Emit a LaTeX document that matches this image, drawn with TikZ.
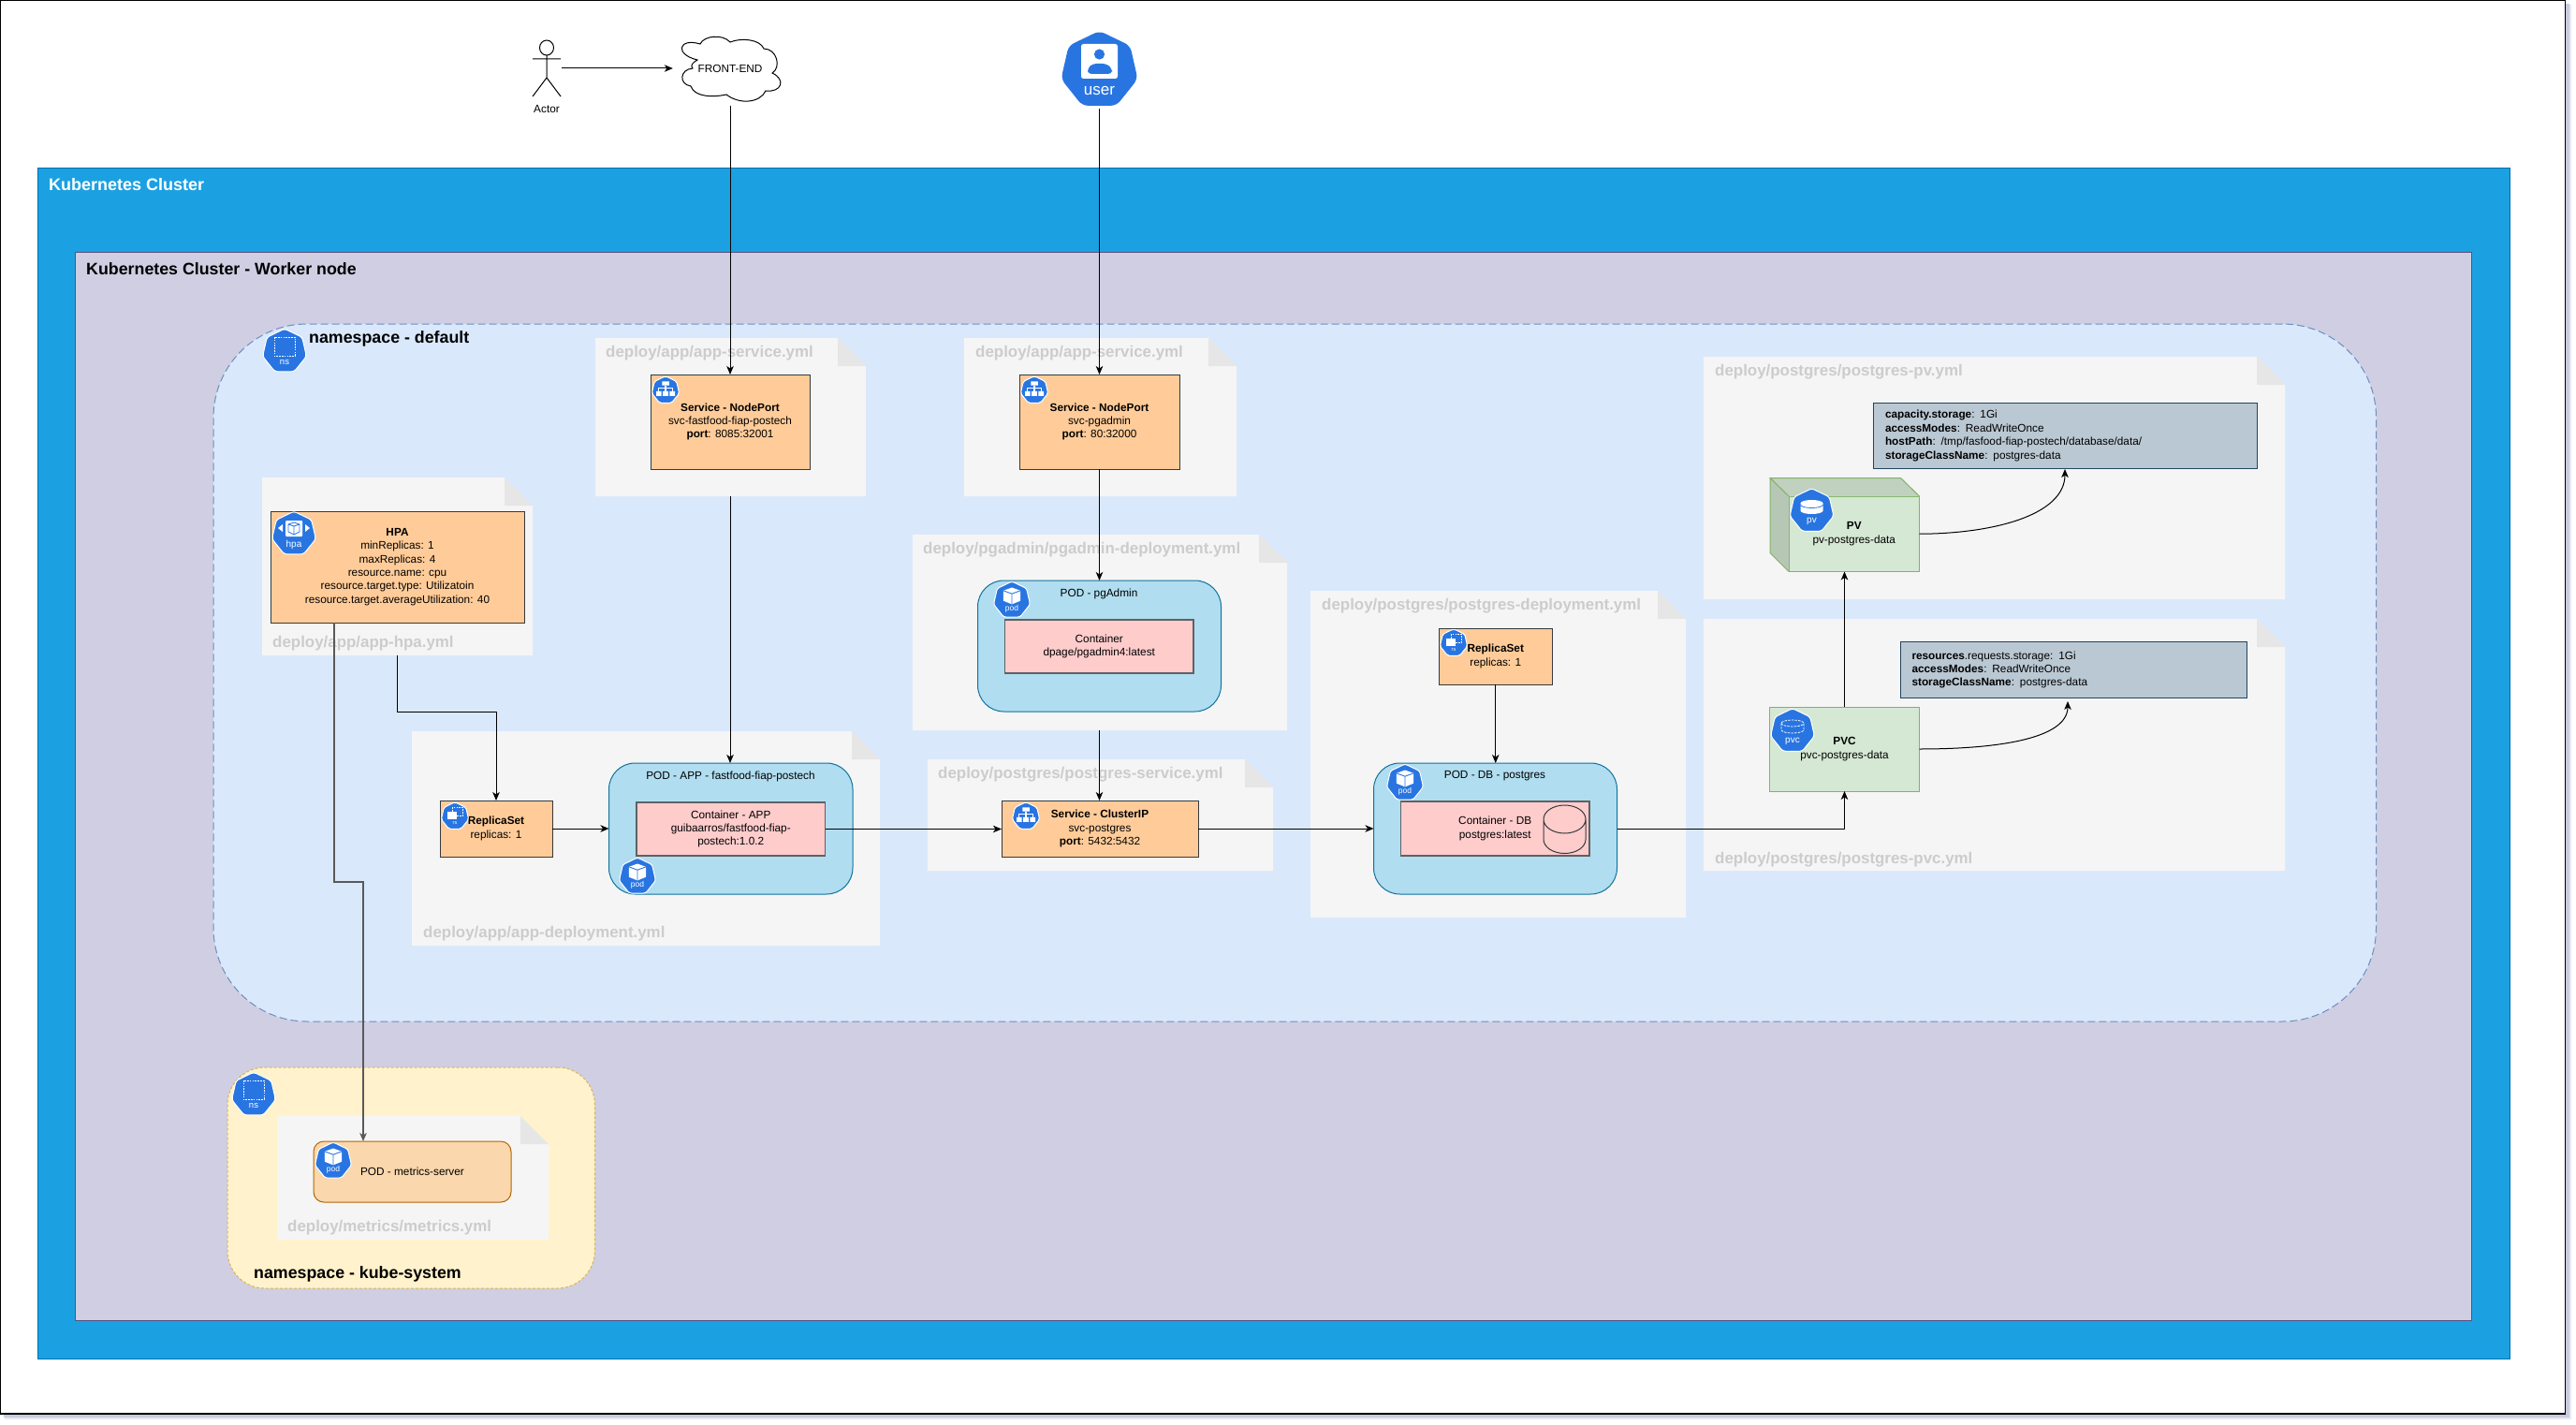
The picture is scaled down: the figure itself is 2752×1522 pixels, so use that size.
\documentclass[tikz,border=0pt]{standalone}
\usepackage{fontspec}
\setmainfont{Liberation Sans}
\usetikzlibrary{arrows.meta,calc,shapes.geometric}
\pgfdeclarelayer{cont}\pgfdeclarelayer{docs}
\pgfsetlayers{cont,docs,main}
\definecolor{kblue}{HTML}{2875E2}
\definecolor{clusterF}{HTML}{1BA1E2}\definecolor{clusterD}{HTML}{006EAF}
\definecolor{workerF}{HTML}{D0CEE2}\definecolor{workerD}{HTML}{56517E}
\definecolor{nsF}{HTML}{DAE8FC}\definecolor{nsD}{HTML}{6C8EBF}
\definecolor{ksF}{HTML}{FFF2CC}\definecolor{ksD}{HTML}{D6B656}
\definecolor{docF}{HTML}{F5F5F5}\definecolor{foldF}{HTML}{E6E6E6}
\definecolor{podF}{HTML}{B1DDF0}\definecolor{podD}{HTML}{10739E}
\definecolor{ctrF}{HTML}{FFCCCC}\definecolor{ctrD}{HTML}{36393D}
\definecolor{orF}{HTML}{FFCC99}\definecolor{mpF}{HTML}{FAD7AC}\definecolor{mpD}{HTML}{B46504}
\definecolor{grF}{HTML}{D5E8D4}\definecolor{grD}{HTML}{82B366}
\definecolor{inF}{HTML}{BAC8D3}\definecolor{inD}{HTML}{23445D}
\definecolor{shadowC}{HTML}{C9CBDD}
\newcommand{\fs}[1]{\fontsize{#1}{#1}\selectfont}
\tikzset{
  x=1pt,y=-1pt,
  box/.style args={#1,#2,#3,#4}{at={({(#1+#3)/2},{(#2+#4)/2})},minimum width={(#3-#1)*1pt},minimum height={(#4-#2)*1pt},inner sep=0pt,outer sep=0pt,rectangle},
  txt/.style={font=\fs{11.8},align=center,text=black,line width=1pt},
  orange/.style={txt,draw=ctrD,fill=orF},
  ctr/.style={txt,draw=ctrD!80,fill=ctrF,line width=1.2pt},
  pod/.style={txt,draw=podD,fill=podF,rounded corners=28pt},
  green/.style={txt,draw=grD,fill=grF},
  info/.style={txt,draw=inD,fill=inF,align=left,text width=385pt},
  doclabel/.style={font=\bfseries\fs{16.9},text=black!20,anchor=west,inner sep=0pt},
  title/.style={font=\bfseries\fs{17.8},anchor=west,inner sep=0pt},
  arr/.style={-{Stealth[length=9pt,width=7.5pt,inset=2.5pt]},line width=1pt,black},
}
% document shape: left, top, right, bottom
\newcommand{\docshape}[4]{%
  \begin{pgfonlayer}{docs}
  \fill[docF] (#1,#2) -- ({#3-30},#2) -- (#3,{#2+30}) -- (#3,#4) -- (#1,#4) -- cycle;
  \fill[foldF] ({#3-30},#2) -- (#3,{#2+30}) -- ({#3-30},{#2+30}) -- cycle;
  \end{pgfonlayer}}
% heptagon: name, x, y, radius; glyph in #5, units: radius 24
\newcommand{\kicon}[5]{%
  \node[regular polygon,regular polygon sides=7,minimum size={2*#4*1pt},inner sep=0pt,outer sep=0pt,fill=kblue,draw=white,line width=1pt,rounded corners={#4*0.12pt}] (#1) at (#2,{#3+#4*0.05}) {};
  \begin{scope}[shift={(#2,#3)},x={#4/24*1pt},y={-#4/24*1pt}]#5\end{scope}}
\newcommand{\lbl}[2]{\node[text=white,font=\fs{#2},inner sep=0pt] at (0,12.5) {#1};}
\newcommand{\gns}{\draw[white,line width=.8pt,dash pattern=on 1.6pt off 1.2pt] (-11,-14) rectangle (11,6);\lbl{ns}{9.5}}
\newcommand{\cubeShape}{%
  \fill[white] (0,-15) -- (11,-11) -- (11,2) -- (0,6.5) -- (-11,2) -- (-11,-11) -- cycle;
  \draw[kblue,line width=.9pt] (-11,-11) -- (0,-7) -- (11,-11) (0,-7) -- (0,6.5);}
\newcommand{\gpod}{\cubeShape\lbl{pod}{8.5}}
\newcommand{\gsvc}{%
  \fill[white] (-6,-14) rectangle (6,-7) (-16,3) rectangle (-7,11) (-4.5,3) rectangle (4.5,11) (7,3) rectangle (16,11);
  \draw[white,line width=1.2pt] (0,-7) -- (0,3) (-11.5,3) -- (-11.5,-2) -- (11.5,-2) -- (11.5,3);}
\newcommand{\grs}{%
  \draw[white,line width=.7pt,dash pattern=on 1.6pt off 1.2pt] (-5,-14) rectangle (13,0);
  \fill[white] (-13,-6) rectangle (3,6);\lbl{rs}{5.5}}
\newcommand{\ghpa}{%
  \fill[white,rounded corners=1pt] (-9,-13) rectangle (9,4);
  \draw[kblue,line width=.8pt] (0,-11) -- (6,-9) -- (6,-1) -- (0,2) -- (-6,-1) -- (-6,-9) -- cycle (-6,-9) -- (0,-7) -- (6,-9) (0,-7) -- (0,2);
  \fill[white] (-17,-5) -- (-12,-9) -- (-12,-1) -- cycle (17,-5) -- (12,-9) -- (12,-1) -- cycle;
  \lbl{hpa}{10}}
\newcommand{\gpv}{%
  \fill[white] (-12,-7) -- (-12,1) arc[start angle=180,end angle=0,x radius=12,y radius=3.5] -- (12,-7) arc[start angle=0,end angle=-180,x radius=12,y radius=3.5] -- cycle;
  \draw[kblue,line width=.8pt] (-12,-5.5) arc[start angle=180,end angle=0,x radius=12,y radius=3.5];
  \lbl{pv}{10}}
\newcommand{\gpvc}{%
  \draw[white,line width=.8pt,dash pattern=on 2.5pt off 1.2pt] (-12,-7) -- (-12,0) arc[start angle=180,end angle=0,x radius=12,y radius=3.5] -- (12,-7) arc[start angle=0,end angle=-180,x radius=12,y radius=3.5];
  \draw[white,line width=.8pt,dash pattern=on 2.5pt off 1.2pt] (-12,-7) arc[start angle=180,end angle=0,x radius=12,y radius=3.5];
  \lbl{pvc}{10}}
\begin{document}
\begin{tikzpicture}
\useasboundingbox (0,0) rectangle (2752,1522);
% containers
\begin{pgfonlayer}{cont}
\fill[white] (0,0) rectangle (2752,1522);
\fill[shadowC!45] (5,5) rectangle (2747,1516);
\fill[shadowC] (4,4) rectangle (2744.5,1513.5);
\draw[black,line width=1.3pt,fill=white] (.65,.65) rectangle (2740.5,1510);
\node[box={40,180,2681,1451},draw=clusterD,fill=clusterF,line width=1pt] (cluster) {};
\node[box={80,270,2640.5,1410.5},draw=workerD,fill=workerF,line width=1pt] (worker) {};
\node[box={228,346,2538.5,1091},draw=nsD,fill=nsF,line width=1pt,dash pattern=on 8pt off 4pt,rounded corners=100pt] (nsdefault) {};
\node[box={243,1140,635.5,1376},draw=ksD,fill=ksF,line width=1pt,dash pattern=on 3pt off 2pt,rounded corners=40pt] (nskube) {};
\end{pgfonlayer}
\node[title,text=white,font=\bfseries\fs{18}] (tcluster) at (52,197) {Kubernetes Cluster};
\node[title] (tworker) at (92,287) {Kubernetes Cluster - Worker node};
\node[title] (tnsd) at (330,362) {namespace - default};
\node[title] (tnsk) at (271,1361) {namespace - kube-system};
\kicon{icNs}{304}{374}{24}{\gns}
\kicon{icNsK}{271}{1168}{24}{\gns}
% documents
\docshape{636}{361}{925}{530}
\docshape{1030}{361}{1321}{530}
\docshape{280}{510}{569}{700}
\docshape{975}{571}{1375}{780}
\docshape{991}{811}{1360}{930}
\docshape{440}{781}{940}{1010}
\docshape{1400}{631}{1801}{980}
\docshape{1820}{381}{2441}{640}
\docshape{1820}{661}{2441}{930}
\docshape{296}{1192}{586}{1324}
\node[doclabel] (l1) at (647,377) {deploy/app/app-service.yml};
\node[doclabel] (l2) at (1042,377) {deploy/app/app-service.yml};
\node[doclabel] (l3) at (291,687) {deploy/app/app-hpa.yml};
\node[doclabel] (l4) at (986,587) {deploy/pgadmin/pgadmin-deployment.yml};
\node[doclabel] (l5) at (1002,827) {deploy/postgres/postgres-service.yml};
\node[doclabel] (l6) at (452,997) {deploy/app/app-deployment.yml};
\node[doclabel] (l7) at (1412,647) {deploy/postgres/postgres-deployment.yml};
\node[doclabel] (l8) at (1832,397) {deploy/postgres/postgres-pv.yml};
\node[doclabel] (l9) at (1832,918) {deploy/postgres/postgres-pvc.yml};
\node[doclabel] (l10) at (307,1311) {deploy/metrics/metrics.yml};
% actor, cloud
\coordinate (actorOut) at (600,73);
\draw[black,line width=1pt] (584,51) ellipse[x radius=7.5,y radius=8] (584,59) -- (584,83) (569,63) -- (599,63) (569,103) -- (584,83) -- (599,103);
\node[font=\fs{11.8},inner sep=0pt] (actor) at (584,117) {Actor};
\node[inner sep=0pt,minimum width=109pt,minimum height=69pt] (cloud) at (782.5,74.5) {};
\draw[black,line width=1pt,fill=white] (745,64) .. controls (720,58) and (725,40) .. (748,47) .. controls (752,38) and (772,36) .. (780,45) .. controls (792,40) and (812,42) .. (816,52) .. controls (830,52) and (835,72) .. (825,78) .. controls (840,85) and (835,99) .. (818,97) .. controls (812,110) and (790,112) .. (776,101) .. controls (762,104) and (742,104) .. (738,92) .. controls (725,90) and (726,74) .. (740,73) .. controls (737,70) and (740,67) .. (745,64) -- cycle;
\node[font=\fs{11.8},inner sep=0pt] (cloudT) at (780,73) {FRONT-END};
% user
\node[regular polygon,regular polygon sides=7,minimum size=84pt,inner sep=0pt,outer sep=0pt,fill=kblue,rounded corners=6pt] (user) at (1174.5,75) {};
\fill[white,rounded corners=2.5pt] (1155,47) rectangle (1194,84);
\fill[kblue] (1174.5,58) circle[radius=5.6];
\fill[kblue,rounded corners=4pt] (1162,79) -- (1162,73) -- (1167,68) -- (1182,68) -- (1188,73) -- (1188,79) -- cycle;
\node[text=white,font=\fs{17},inner sep=0pt] (userT) at (1174.5,97) {user};
% boxes
\node[orange,box={695,400,865,501}] (svcApp) {\textbf{Service - NodePort}\\[2.6pt]svc-fastfood-fiap-postech\\[2.6pt]\textbf{port}: 8085:32001};
\kicon{icSvcApp}{711}{416}{15}{\gsvc}
\node[orange,box={1089,400,1260,501}] (svcPg) {\textbf{Service - NodePort}\\[2.6pt]svc-pgadmin\\[2.6pt]\textbf{port}: 80:32000};
\kicon{icSvcPg}{1105}{416}{15}{\gsvc}
\node[orange,box={289,546,560,665}] (hpa) {\textbf{HPA}\\[2.6pt]minReplicas: 1\\[2.6pt]maxReplicas: 4\\[2.6pt]resource.name: cpu\\[2.6pt]resource.target.type: Utilizatoin\\[2.6pt]resource.target.averageUtilization: 40};
\kicon{icHpa}{314}{569}{24}{\ghpa}
\node[orange,box={470,855,590,915}] (rsApp) {\textbf{ReplicaSet}\\[2.6pt]replicas: 1};
\kicon{icRsApp}{486}{871}{15}{\grs}
\node[pod,box={650.5,815,911,955}] (podApp) {};
\node[txt] (podAppT) at (780.5,829) {POD - APP - fastfood-fiap-postech};
\node[ctr,box={680,857,881.5,914}] (ctrApp) {Container - APP\\[2.6pt]guibaarros/fastfood-fiap-\\[2.6pt]postech:1.0.2};
\kicon{icPodApp}{681}{935}{20}{\gpod}
\node[pod,box={1044.5,620,1304.5,760}] (podPg) {};
\node[txt] (podPgT) at (1174,634) {POD - pgAdmin};
\node[ctr,box={1073.5,662,1275,719}] (ctrPg) {Container\\[2.6pt]dpage/pgadmin4:latest};
\kicon{icPodPg}{1081}{640}{20}{\gpod}
\node[orange,box={1070,855,1280,915}] (svcDb) {\textbf{Service - ClusterIP}\\[2.6pt]svc-postgres\\[2.6pt]\textbf{port}: 5432:5432};
\kicon{icSvcDb}{1096}{871}{15}{\gsvc}
\node[orange,box={1537.5,671,1658,731}] (rsDb) {\textbf{ReplicaSet}\\[2.6pt]replicas: 1};
\kicon{icRsDb}{1553}{686}{15}{\grs}
\node[pod,box={1467.5,815,1727.5,955}] (podDb) {};
\node[txt] (podDbT) at (1597,829) {POD - DB - postgres};
\node[ctr,box={1496.5,856,1698,914}] (ctrDb) {Container - DB\\[2.6pt]postgres:latest};
\draw[ctrD,line width=1pt] (1649,875) -- (1649,896.5) arc[start angle=180,end angle=0,x radius=22.5,y radius=15] -- (1694,875) arc[start angle=0,end angle=-180,x radius=22.5,y radius=15] arc[start angle=180,end angle=0,x radius=22.5,y radius=15];
\kicon{icPodDb}{1501}{835}{20}{\gpod}
\node[info,box={2001.5,430.5,2411.5,500.5}] (infoPv) {\textbf{capacity.storage}: 1Gi\\[2.6pt]\textbf{accessModes}: ReadWriteOnce\\[2.6pt]\textbf{hostPath}: /tmp/fasfood-fiap-postech/database/data/\\[2.6pt]\textbf{storageClassName}: postgres-data};
\node[info,box={2030.5,685.5,2400.5,745.5},text width=346pt] (infoPvc) {\textbf{resources}.requests.storage: 1Gi\\[2.6pt]\textbf{accessModes}: ReadWriteOnce\\[2.6pt]\textbf{storageClassName}: postgres-data};
% PV cube
\node[green,box={1911,530,2050.5,610.5}] (pv) {\textbf{PV}\\[2.6pt]pv-postgres-data};
\fill[grF!90!black] (1891,510.5) -- (2030.5,510.5) -- (2050.5,530) -- (1911,530) -- cycle;
\fill[grF!86!black] (1891,510.5) -- (1911,530) -- (1911,610.5) -- (1891,590.5) -- cycle;
\draw[grD,line width=1pt] (1911,530) -- (1891,510.5) -- (2030.5,510.5) -- (2050.5,530) (1891,510.5) -- (1891,590.5) -- (1911,610.5);
\kicon{icPv}{1935.5}{544.5}{24}{\gpv}
\node[green,box={1890.5,755,2050.5,845}] (pvc) {\textbf{PVC}\\[2.6pt]pvc-postgres-data};
\kicon{icPvc}{1915}{779.5}{24}{\gpvc}
\node[txt,draw=mpD,fill=mpF,rounded corners=11pt,box={335,1219,546,1284}] (podM) {POD - metrics-server};
\kicon{icPodM}{356}{1239}{20}{\gpod}
% connectors: three of them leave from the edge of the document that hides their start
\coordinate (svcAppOut) at (780,530);
\coordinate (hpaDocOut) at (424.5,700);
\coordinate (hpaBend) at (424.5,760);
\coordinate (podPgOut) at (1174.5,780);
\draw[arr] (svcAppOut) -- (svcAppOut |- podApp.north);
\draw[arr] (hpaDocOut) -- (hpaBend) -| (rsApp.north);
\draw[arr] (podPgOut) -- (podPgOut |- svcDb.north);
\draw[arr,shorten >=9pt] (actorOut) -- (cloud.west |- actorOut);
\draw[arr] (cloudT |- cloud.south) ++(0,3.5) -- (svcApp.north);
\draw[arr] (user.south) ++(0,3) -- (svcPg.north);
\draw[arr] (svcPg.south) -- (podPg.north);
\draw[arr] (rsApp.east) -- (podApp.west);
\draw[arr] (ctrApp.east) -- (ctrApp.east -| svcDb.west);
\draw[arr] (svcDb.east) -- (podDb.west);
\draw[arr] (rsDb.south) -- (podDb.north -| rsDb.south);
\draw[arr] (podDb.east) -| (pvc.south);
\draw[arr] (pvc.north) -- (pvc.north |- pv.south);
\draw[arr] (pv.east) .. controls (2130,570) and (2206,550) .. (2206,501);
\draw[arr] (pvc.east) .. controls (2130,800) and (2209,790) .. (2209,749);
\coordinate (hpaOut) at (357,665);
\coordinate (hpaBendA) at (357,942);
\coordinate (hpaBendB) at (388,942);
\draw[arr,line width=2pt,black!65] (hpaOut) -- (hpaBendA) -- (hpaBendB) -- (hpaBendB |- podM.north);
\end{tikzpicture}
\end{document}
